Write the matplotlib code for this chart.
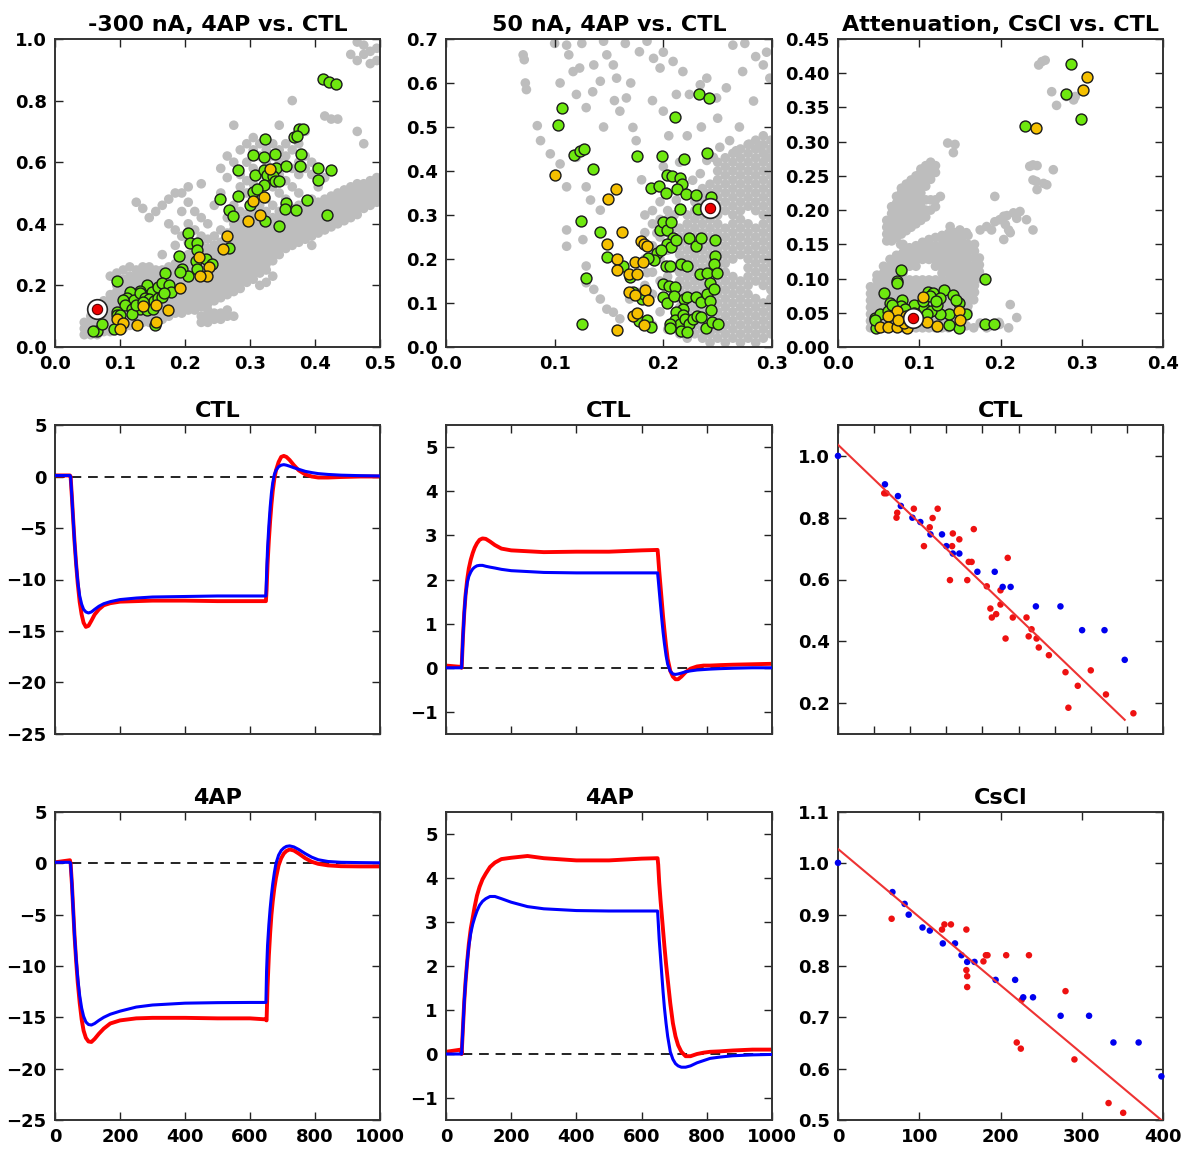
import matplotlib
matplotlib.use('Agg')
import matplotlib.pyplot as plt

plt.rcParams['font.family'] = ['DejaVu Sans']
plt.rcParams['font.weight'] = 'bold'
plt.rcParams['axes.titleweight'] = 'bold'

# ---------------- top-left: -300 nA, 4AP vs. CTL ----------------
gray_tl_cols = [0.045, 0.055, 0.065, 0.075, 0.085, 0.095, 0.105, 0.115, 0.125, 0.135, 0.145, 0.155, 0.165,
                0.175, 0.185, 0.195, 0.205, 0.215, 0.225, 0.235, 0.245, 0.255, 0.265, 0.275, 0.285, 0.295,
                0.305, 0.315, 0.325, 0.335, 0.345, 0.355, 0.365, 0.375, 0.385, 0.395, 0.405, 0.415, 0.425,
                0.435, 0.445, 0.455, 0.465, 0.475, 0.485, 0.495]
gray_tl_rows = [
    [0.04, 0.06, 0.08],
    [0.04, 0.06, 0.08, 0.10],
    [0.04, 0.06, 0.08, 0.10, 0.12],
    [0.05, 0.07, 0.09, 0.11, 0.13, 0.15],
    [0.05, 0.07, 0.09, 0.11, 0.13, 0.15, 0.17, 0.23],
    [0.06, 0.08, 0.10, 0.12, 0.14, 0.16, 0.18, 0.20, 0.24],
    [0.06, 0.08, 0.10, 0.12, 0.14, 0.16, 0.18, 0.20, 0.22, 0.25],
    [0.07, 0.09, 0.11, 0.13, 0.15, 0.17, 0.19, 0.21, 0.23, 0.26],
    [0.07, 0.09, 0.11, 0.13, 0.15, 0.17, 0.19, 0.21, 0.23, 0.25, 0.47],
    [0.08, 0.10, 0.12, 0.14, 0.16, 0.18, 0.20, 0.22, 0.24, 0.26, 0.45],
    [0.08, 0.10, 0.12, 0.14, 0.16, 0.18, 0.20, 0.22, 0.24, 0.26, 0.42],
    [0.09, 0.11, 0.13, 0.15, 0.17, 0.19, 0.21, 0.23, 0.25, 0.44],
    [0.09, 0.11, 0.13, 0.15, 0.17, 0.19, 0.21, 0.23, 0.25, 0.30, 0.46],
    [0.10, 0.12, 0.14, 0.16, 0.18, 0.20, 0.22, 0.24, 0.26, 0.40, 0.48],
    [0.11, 0.13, 0.15, 0.17, 0.19, 0.21, 0.23, 0.25, 0.27, 0.33, 0.38, 0.50],
    [0.11, 0.13, 0.15, 0.17, 0.19, 0.21, 0.23, 0.25, 0.27, 0.29, 0.36, 0.44, 0.50],
    [0.12, 0.14, 0.16, 0.18, 0.20, 0.22, 0.24, 0.26, 0.28, 0.30, 0.34, 0.40, 0.47, 0.52],
    [0.12, 0.14, 0.16, 0.18, 0.20, 0.22, 0.24, 0.26, 0.28, 0.30, 0.32, 0.38, 0.44],
    [0.08, 0.10, 0.13, 0.15, 0.17, 0.19, 0.21, 0.23, 0.25, 0.27, 0.29, 0.31, 0.33, 0.36, 0.42, 0.53],
    [0.08, 0.10, 0.12, 0.14, 0.16, 0.18, 0.20, 0.22, 0.24, 0.26, 0.28, 0.30, 0.32, 0.35, 0.40],
    [0.09, 0.11, 0.15, 0.17, 0.19, 0.21, 0.23, 0.25, 0.27, 0.29, 0.31, 0.33, 0.36, 0.46],
    [0.09, 0.11, 0.16, 0.18, 0.20, 0.22, 0.24, 0.26, 0.28, 0.30, 0.32, 0.34, 0.38, 0.50, 0.58],
    [0.10, 0.12, 0.17, 0.19, 0.21, 0.23, 0.25, 0.27, 0.29, 0.31, 0.33, 0.35, 0.37, 0.42, 0.55, 0.62],
    [0.10, 0.18, 0.20, 0.22, 0.24, 0.26, 0.28, 0.30, 0.32, 0.34, 0.36, 0.38, 0.40, 0.46, 0.60, 0.72],
    [0.19, 0.21, 0.23, 0.25, 0.27, 0.29, 0.31, 0.33, 0.35, 0.37, 0.39, 0.41, 0.44, 0.52, 0.56, 0.64],
    [0.21, 0.23, 0.25, 0.27, 0.29, 0.31, 0.33, 0.35, 0.37, 0.39, 0.41, 0.43, 0.50, 0.54, 0.60, 0.66],
    [0.22, 0.24, 0.26, 0.28, 0.30, 0.32, 0.34, 0.36, 0.38, 0.40, 0.42, 0.44, 0.48, 0.53, 0.58, 0.64, 0.68],
    [0.20, 0.24, 0.26, 0.28, 0.30, 0.32, 0.34, 0.36, 0.38, 0.40, 0.42, 0.46, 0.50, 0.56, 0.62, 0.66],
    [0.21, 0.25, 0.27, 0.29, 0.31, 0.33, 0.35, 0.37, 0.39, 0.41, 0.44, 0.48, 0.54, 0.60, 0.64],
    [0.23, 0.28, 0.30, 0.32, 0.34, 0.36, 0.38, 0.40, 0.42, 0.46, 0.52, 0.58, 0.62, 0.66],
    [0.30, 0.32, 0.34, 0.36, 0.38, 0.40, 0.42, 0.44, 0.50, 0.56, 0.60, 0.64, 0.72],
    [0.32, 0.34, 0.36, 0.38, 0.40, 0.42, 0.44, 0.48, 0.54, 0.62, 0.66],
    [0.33, 0.35, 0.37, 0.39, 0.41, 0.43, 0.45, 0.52, 0.58, 0.64, 0.80],
    [0.34, 0.36, 0.38, 0.40, 0.42, 0.44, 0.46, 0.50, 0.56, 0.60, 0.66],
    [0.35, 0.37, 0.39, 0.41, 0.43, 0.45, 0.47, 0.58, 0.62, 0.70],
    [0.33, 0.36, 0.38, 0.40, 0.42, 0.44, 0.46, 0.48, 0.56, 0.60],
    [0.37, 0.39, 0.41, 0.43, 0.45, 0.47, 0.52, 0.58],
    [0.38, 0.40, 0.42, 0.44, 0.46, 0.48, 0.55, 0.75],
    [0.39, 0.41, 0.43, 0.45, 0.47, 0.49, 0.74],
    [0.40, 0.42, 0.44, 0.46, 0.48, 0.50, 0.74],
    [0.41, 0.43, 0.45, 0.47, 0.49, 0.51],
    [0.42, 0.44, 0.46, 0.48, 0.50, 0.52, 0.95],
    [0.43, 0.45, 0.47, 0.49, 0.51, 0.53, 0.70, 0.93, 0.99],
    [0.45, 0.47, 0.49, 0.51, 0.53, 0.66, 0.95, 0.98],
    [0.46, 0.48, 0.50, 0.52, 0.54, 0.92, 0.96],
    [0.47, 0.49, 0.51, 0.53, 0.55, 0.93, 0.97],
]
green_tl_x = [0.412, 0.421, 0.432, 0.375, 0.382, 0.367, 0.373, 0.323, 0.304, 0.321, 0.338, 0.379, 0.281, 0.308,
              0.322, 0.326, 0.340, 0.355, 0.377, 0.404, 0.424, 0.336, 0.338, 0.345, 0.404, 0.304, 0.321, 0.311,
              0.254, 0.281, 0.300, 0.323, 0.267, 0.274, 0.356, 0.354, 0.371, 0.387, 0.419, 0.345, 0.204, 0.207,
              0.218, 0.218, 0.268, 0.191, 0.196, 0.217, 0.232, 0.242, 0.169, 0.204, 0.219, 0.193, 0.141, 0.131,
              0.095, 0.115, 0.149, 0.159, 0.164, 0.176, 0.179, 0.110, 0.121, 0.130, 0.138, 0.145, 0.152, 0.159,
              0.164, 0.167, 0.105, 0.108, 0.118, 0.131, 0.141, 0.151, 0.095, 0.095, 0.100, 0.118, 0.064, 0.073,
              0.059, 0.090, 0.154, 0.125, 0.136]
green_tl_y = [0.870, 0.861, 0.853, 0.707, 0.707, 0.683, 0.685, 0.676, 0.623, 0.617, 0.627, 0.627, 0.574, 0.558,
              0.576, 0.558, 0.582, 0.587, 0.587, 0.582, 0.576, 0.554, 0.538, 0.538, 0.543, 0.502, 0.527, 0.514,
              0.482, 0.491, 0.462, 0.408, 0.446, 0.426, 0.467, 0.448, 0.446, 0.476, 0.429, 0.393, 0.370, 0.337,
              0.337, 0.315, 0.321, 0.296, 0.252, 0.280, 0.285, 0.268, 0.241, 0.230, 0.252, 0.245, 0.201, 0.183,
              0.215, 0.179, 0.179, 0.196, 0.207, 0.201, 0.178, 0.160, 0.152, 0.174, 0.160, 0.155, 0.149, 0.158,
              0.163, 0.176, 0.152, 0.136, 0.122, 0.125, 0.120, 0.125, 0.114, 0.103, 0.103, 0.107, 0.052, 0.076,
              0.052, 0.060, 0.071, 0.136, 0.147]
yellow_tl_x = [0.330, 0.305, 0.322, 0.316, 0.297, 0.264, 0.258, 0.221, 0.237, 0.234, 0.223, 0.192, 0.136,
               0.156, 0.174, 0.095, 0.105, 0.100, 0.126, 0.155]
yellow_tl_y = [0.578, 0.473, 0.487, 0.429, 0.408, 0.359, 0.317, 0.291, 0.261, 0.230, 0.230, 0.190, 0.133,
               0.136, 0.120, 0.092, 0.078, 0.060, 0.071, 0.082]
red_tl = (0.064, 0.122)

# ---------------- top-middle: 50 nA, 4AP vs. CTL ----------------
gray_tm_cols = [0.183, 0.190, 0.197, 0.204, 0.210, 0.215, 0.222, 0.229, 0.236, 0.243, 0.250, 0.257, 0.264,
                0.271, 0.278, 0.285, 0.292, 0.299]
gray_tm_rows = [
    [0.14, 0.20, 0.26, 0.30],
    [0.05, 0.12, 0.17, 0.23, 0.28, 0.31],
    [0.08, 0.15, 0.20, 0.25, 0.29, 0.33],
    [0.04, 0.10, 0.16, 0.22, 0.26, 0.29, 0.31],
    [0.06, 0.12, 0.18, 0.24, 0.27, 0.30],
    [0.03, 0.05, 0.07, 0.09, 0.11, 0.13, 0.15, 0.17, 0.19, 0.21, 0.23, 0.25, 0.27],
    [0.02, 0.04, 0.06, 0.08, 0.10, 0.12, 0.14, 0.16, 0.18, 0.20, 0.22, 0.24, 0.26, 0.28, 0.30],
    [0.03, 0.05, 0.07, 0.09, 0.11, 0.13, 0.15, 0.17, 0.19, 0.21, 0.23, 0.25, 0.27, 0.29, 0.31, 0.33],
    [0.02, 0.04, 0.06, 0.08, 0.10, 0.12, 0.14, 0.16, 0.18, 0.20, 0.22, 0.24, 0.26, 0.28, 0.30, 0.32, 0.34, 0.36],
    [0.01, 0.03, 0.05, 0.07, 0.09, 0.11, 0.13, 0.15, 0.17, 0.19, 0.21, 0.23, 0.25, 0.27, 0.29, 0.31, 0.33,
     0.35, 0.37],
    [0.02, 0.04, 0.06, 0.08, 0.10, 0.12, 0.14, 0.16, 0.18, 0.20, 0.22, 0.24, 0.26, 0.28, 0.30, 0.32, 0.34,
     0.36, 0.38, 0.40, 0.42],
    [0.01, 0.03, 0.05, 0.07, 0.09, 0.11, 0.13, 0.15, 0.17, 0.19, 0.21, 0.23, 0.25, 0.27, 0.31, 0.33, 0.35,
     0.37, 0.39, 0.41, 0.43],
    [0.02, 0.04, 0.06, 0.08, 0.10, 0.12, 0.14, 0.16, 0.20, 0.22, 0.24, 0.26, 0.28, 0.30, 0.32, 0.34, 0.36,
     0.38, 0.40, 0.42, 0.44],
    [0.01, 0.03, 0.05, 0.07, 0.09, 0.11, 0.13, 0.15, 0.21, 0.23, 0.25, 0.27, 0.29, 0.31, 0.33, 0.35, 0.37,
     0.39, 0.41, 0.43, 0.45],
    [0.02, 0.04, 0.06, 0.08, 0.10, 0.12, 0.14, 0.16, 0.18, 0.20, 0.22, 0.24, 0.26, 0.28, 0.32, 0.34, 0.36,
     0.38, 0.40, 0.42, 0.44, 0.46],
    [0.01, 0.03, 0.05, 0.07, 0.09, 0.11, 0.15, 0.17, 0.19, 0.21, 0.23, 0.25, 0.27, 0.31, 0.33, 0.35, 0.37,
     0.39, 0.41, 0.43, 0.45, 0.47],
    [0.02, 0.04, 0.06, 0.08, 0.10, 0.14, 0.16, 0.18, 0.20, 0.22, 0.24, 0.26, 0.28, 0.30, 0.32, 0.34, 0.36,
     0.38, 0.40, 0.42, 0.44, 0.46, 0.48],
    [0.03, 0.05, 0.07, 0.09, 0.11, 0.13, 0.15, 0.17, 0.19, 0.21, 0.23, 0.25, 0.27, 0.29, 0.31, 0.33, 0.35,
     0.37, 0.39, 0.41, 0.43, 0.45, 0.47],
]
gray_tm_x = [0.071, 0.072, 0.073, 0.074, 0.084, 0.087, 0.096, 0.111, 0.113, 0.117, 0.123, 0.120, 0.129, 0.136,
             0.142, 0.148, 0.154, 0.157, 0.160, 0.166, 0.172, 0.175, 0.178, 0.191, 0.197, 0.200, 0.209, 0.212,
             0.218, 0.224, 0.234, 0.240, 0.249, 0.258, 0.264, 0.273, 0.283, 0.292, 0.298, 0.105, 0.111, 0.120,
             0.129, 0.133, 0.142, 0.111, 0.111, 0.126, 0.129, 0.129, 0.136, 0.142, 0.148, 0.154, 0.160, 0.169,
             0.178, 0.185, 0.191, 0.194, 0.206, 0.212, 0.218, 0.227, 0.234, 0.240, 0.246, 0.252, 0.261, 0.267,
             0.279, 0.289, 0.295, 0.100, 0.125, 0.145, 0.165, 0.185, 0.200, 0.105, 0.135, 0.155, 0.145, 0.170,
             0.190, 0.205, 0.215, 0.275, 0.285, 0.295, 0.250, 0.270, 0.180, 0.200, 0.222, 0.235]
gray_tm_y = [0.664, 0.653, 0.600, 0.585, 0.503, 0.469, 0.439, 0.686, 0.664, 0.626, 0.634, 0.574, 0.544, 0.641,
             0.604, 0.664, 0.641, 0.611, 0.536, 0.566, 0.499, 0.469, 0.671, 0.656, 0.634, 0.536, 0.649, 0.574,
             0.626, 0.574, 0.596, 0.611, 0.566, 0.589, 0.686, 0.626, 0.559, 0.641, 0.611, 0.416, 0.364, 0.431,
             0.364, 0.334, 0.311, 0.266, 0.229, 0.244, 0.184, 0.146, 0.131, 0.109, 0.086, 0.079, 0.064, 0.109,
             0.124, 0.169, 0.214, 0.259, 0.296, 0.334, 0.364, 0.379, 0.394, 0.424, 0.431, 0.454, 0.469, 0.446,
             0.461, 0.454, 0.431, 0.690, 0.690, 0.695, 0.690, 0.695, 0.670, 0.600, 0.580, 0.560, 0.500, 0.600,
             0.560, 0.480, 0.420, 0.690, 0.660, 0.670, 0.520, 0.500, 0.380, 0.410, 0.480, 0.500]
green_tm_x = [0.107, 0.103, 0.118, 0.123, 0.127, 0.135, 0.124, 0.142, 0.148, 0.129, 0.125, 0.176, 0.199, 0.211,
              0.219, 0.233, 0.242, 0.240, 0.189, 0.196, 0.202, 0.203, 0.208, 0.215, 0.217, 0.213, 0.221, 0.230,
              0.232, 0.215, 0.244, 0.197, 0.200, 0.203, 0.207, 0.209, 0.203, 0.207, 0.212, 0.224, 0.230, 0.235,
              0.248, 0.194, 0.198, 0.191, 0.186, 0.163, 0.202, 0.206, 0.216, 0.222, 0.234, 0.240, 0.243, 0.248,
              0.247, 0.249, 0.200, 0.200, 0.203, 0.205, 0.211, 0.210, 0.219, 0.222, 0.230, 0.235, 0.240, 0.243,
              0.244, 0.247, 0.218, 0.212, 0.211, 0.215, 0.218, 0.220, 0.224, 0.227, 0.231, 0.235, 0.239, 0.245,
              0.250, 0.178, 0.185, 0.189, 0.206, 0.216, 0.222, 0.206, 0.169, 0.172, 0.180, 0.182]
green_tm_y = [0.544, 0.505, 0.437, 0.445, 0.450, 0.404, 0.287, 0.261, 0.204, 0.157, 0.053, 0.435, 0.434, 0.523,
              0.428, 0.575, 0.565, 0.441, 0.362, 0.366, 0.351, 0.390, 0.389, 0.383, 0.371, 0.358, 0.347, 0.345,
              0.313, 0.313, 0.340, 0.266, 0.285, 0.266, 0.283, 0.248, 0.233, 0.227, 0.244, 0.248, 0.229, 0.248,
              0.244, 0.214, 0.221, 0.197, 0.203, 0.184, 0.184, 0.184, 0.188, 0.184, 0.165, 0.169, 0.146, 0.206,
              0.189, 0.169, 0.143, 0.113, 0.101, 0.139, 0.137, 0.116, 0.109, 0.113, 0.113, 0.103, 0.120, 0.105,
              0.083, 0.131, 0.086, 0.079, 0.062, 0.053, 0.073, 0.064, 0.053, 0.064, 0.071, 0.068, 0.043, 0.056,
              0.053, 0.060, 0.062, 0.045, 0.053, 0.037, 0.034, 0.044, 0.158, 0.124, 0.109, 0.120]
yellow_tm_x = [0.100, 0.149, 0.156, 0.148, 0.162, 0.179, 0.182, 0.185, 0.157, 0.174, 0.181, 0.157, 0.168,
               0.176, 0.168, 0.174, 0.183, 0.186, 0.172, 0.176, 0.182, 0.157]
yellow_tm_y = [0.392, 0.336, 0.358, 0.233, 0.261, 0.240, 0.233, 0.229, 0.199, 0.194, 0.194, 0.174, 0.167,
               0.167, 0.125, 0.118, 0.130, 0.107, 0.070, 0.077, 0.049, 0.038]
red_tm = (0.243, 0.317)

# ---------------- top-right: Attenuation, CsCl vs. CTL ----------------
gray_tr_cols = [0.040, 0.048, 0.056, 0.064, 0.072, 0.080, 0.088, 0.096, 0.104, 0.112, 0.120, 0.128, 0.136,
                0.144, 0.152, 0.160, 0.168, 0.174]
gray_tr_rows = [
    [0.028, 0.038, 0.048, 0.058, 0.068, 0.078, 0.088],
    [0.028, 0.038, 0.048, 0.058, 0.068, 0.078, 0.088, 0.098, 0.105],
    [0.028, 0.038, 0.048, 0.058, 0.068, 0.078, 0.088, 0.098, 0.108, 0.118],
    [0.028, 0.038, 0.048, 0.058, 0.068, 0.078, 0.088, 0.098, 0.108, 0.118, 0.128],
    [0.028, 0.038, 0.048, 0.058, 0.068, 0.078, 0.088, 0.098, 0.108, 0.118, 0.128, 0.134],
    [0.028, 0.038, 0.048, 0.058, 0.068, 0.078, 0.088, 0.098, 0.108, 0.118, 0.128, 0.138],
    [0.028, 0.038, 0.048, 0.058, 0.068, 0.078, 0.088, 0.098, 0.118, 0.128, 0.138, 0.145],
    [0.028, 0.038, 0.048, 0.058, 0.068, 0.078, 0.088, 0.098, 0.118, 0.128, 0.138, 0.148],
    [0.028, 0.038, 0.048, 0.058, 0.068, 0.078, 0.088, 0.098, 0.128, 0.138, 0.148, 0.153],
    [0.028, 0.038, 0.048, 0.058, 0.068, 0.078, 0.088, 0.098, 0.128, 0.138, 0.148, 0.157],
    [0.028, 0.038, 0.048, 0.058, 0.068, 0.078, 0.088, 0.098, 0.118, 0.128, 0.138, 0.148, 0.160],
    [0.028, 0.038, 0.048, 0.058, 0.068, 0.078, 0.088, 0.098, 0.108, 0.118, 0.128, 0.138, 0.148, 0.158, 0.163],
    [0.028, 0.038, 0.048, 0.058, 0.068, 0.078, 0.088, 0.098, 0.108, 0.118, 0.128, 0.138, 0.148, 0.158, 0.166],
    [0.030, 0.040, 0.050, 0.060, 0.070, 0.080, 0.090, 0.100, 0.110, 0.120, 0.130, 0.140, 0.150, 0.160, 0.167],
    [0.035, 0.045, 0.055, 0.065, 0.075, 0.085, 0.095, 0.105, 0.115, 0.125, 0.135, 0.145, 0.155, 0.167],
    [0.050, 0.060, 0.070, 0.080, 0.090, 0.100, 0.110, 0.120, 0.130, 0.140, 0.150, 0.163],
    [0.080, 0.090, 0.100, 0.110, 0.120, 0.130, 0.140, 0.150],
    [0.100, 0.110, 0.120, 0.130],
]
fin_tr_cols = [0.060, 0.066, 0.072, 0.078, 0.084, 0.090, 0.096, 0.102, 0.108, 0.114, 0.120, 0.126]
fin_tr_rows = [
    [0.155, 0.165, 0.175, 0.185],
    [0.155, 0.165, 0.175, 0.185, 0.195, 0.205],
    [0.160, 0.170, 0.180, 0.190, 0.200, 0.210, 0.220],
    [0.165, 0.175, 0.185, 0.195, 0.205, 0.215, 0.225, 0.232],
    [0.170, 0.180, 0.190, 0.200, 0.210, 0.220, 0.230, 0.238],
    [0.175, 0.185, 0.195, 0.205, 0.215, 0.225, 0.235, 0.244],
    [0.180, 0.190, 0.200, 0.210, 0.220, 0.230, 0.240, 0.250],
    [0.185, 0.195, 0.205, 0.215, 0.225, 0.235, 0.245, 0.255, 0.260],
    [0.190, 0.200, 0.215, 0.235, 0.245, 0.255, 0.265],
    [0.200, 0.215, 0.245, 0.255, 0.265, 0.270],
    [0.205, 0.215, 0.255, 0.265],
    [0.220],
]
gray_tr_x = [0.150, 0.158, 0.175, 0.183, 0.189, 0.193, 0.199, 0.204, 0.208, 0.216, 0.224, 0.220, 0.206, 0.210,
             0.204, 0.212, 0.232, 0.240, 0.193, 0.236, 0.240, 0.245, 0.253, 0.257, 0.244, 0.245, 0.265, 0.240,
             0.247, 0.251, 0.255, 0.263, 0.269, 0.281, 0.290, 0.292, 0.167, 0.212, 0.220, 0.199, 0.183, 0.167,
             0.158, 0.175, 0.135, 0.144, 0.142, 0.077, 0.080, 0.138, 0.186, 0.198, 0.210]
gray_tr_y = [0.171, 0.167, 0.171, 0.176, 0.171, 0.183, 0.186, 0.191, 0.192, 0.196, 0.198, 0.188, 0.179, 0.171,
             0.157, 0.167, 0.186, 0.171, 0.220, 0.264, 0.266, 0.265, 0.239, 0.237, 0.242, 0.230, 0.259, 0.244,
             0.412, 0.417, 0.419, 0.373, 0.353, 0.366, 0.361, 0.366, 0.069, 0.062, 0.043, 0.033, 0.028, 0.028,
             0.031, 0.035, 0.298, 0.296, 0.284, 0.150, 0.150, 0.176, 0.030, 0.036, 0.028]
green_tr_x = [0.077, 0.072, 0.072, 0.057, 0.045, 0.052, 0.064, 0.079, 0.077, 0.093, 0.111, 0.117, 0.131, 0.142,
              0.149, 0.158, 0.149, 0.137, 0.137, 0.125, 0.106, 0.103, 0.062, 0.066, 0.115, 0.109, 0.122, 0.126,
              0.105, 0.047, 0.046, 0.113, 0.120, 0.145, 0.093, 0.083, 0.181, 0.181, 0.192, 0.287, 0.281, 0.299,
              0.230]
green_tr_y = [0.113, 0.096, 0.093, 0.079, 0.043, 0.048, 0.064, 0.068, 0.060, 0.061, 0.080, 0.079, 0.083, 0.076,
              0.065, 0.048, 0.028, 0.032, 0.048, 0.048, 0.057, 0.043, 0.052, 0.062, 0.052, 0.048, 0.062, 0.072,
              0.067, 0.028, 0.040, 0.075, 0.067, 0.069, 0.050, 0.055, 0.100, 0.034, 0.034, 0.413, 0.369, 0.333,
              0.323]
yellow_tr_x = [0.306, 0.301, 0.244, 0.105, 0.072, 0.062, 0.052, 0.062, 0.073, 0.085, 0.081, 0.109, 0.122,
               0.149, 0.150, 0.084, 0.074, 0.088]
yellow_tr_y = [0.395, 0.375, 0.320, 0.073, 0.052, 0.046, 0.029, 0.029, 0.029, 0.028, 0.035, 0.036, 0.031,
               0.052, 0.039, 0.045, 0.040, 0.038]
red_tr = (0.092, 0.043)

# ---------------- traces ----------------
t_ms = [0, 46, 48, 52, 56, 60, 65, 70, 76, 82, 88, 95, 103, 112, 122, 135, 150, 170, 200, 250, 300, 400, 500,
        600, 649, 651, 654, 658, 662, 666, 670, 675, 680, 688, 696, 704, 712, 722, 735, 750, 770, 790, 810, 840,
        880, 940, 1000]
ctl_neg_red = [0.1, 0.1, 0.0, -2.0, -4.2, -6.3, -8.5, -10.4, -12.2, -13.4, -14.2, -14.6, -14.5, -14.0, -13.4,
               -12.9, -12.5, -12.3, -12.15, -12.1, -12.05, -12.05, -12.1, -12.1, -12.1, -11.0, -8.5, -6.2, -4.3,
               -2.7, -1.4, -0.2, 0.6, 1.4, 1.9, 2.0, 1.9, 1.6, 1.1, 0.6, 0.2, 0.0, -0.1, -0.1, -0.05, 0.0, 0.0]
ctl_neg_blue = [0.1, 0.1, 0.0, -2.0, -4.2, -6.3, -8.5, -10.2, -11.6, -12.4, -12.9, -13.15, -13.25, -13.15,
                -12.9, -12.6, -12.35, -12.15, -11.95, -11.8, -11.7, -11.65, -11.6, -11.6, -11.6, -9.5, -7.0,
                -4.8, -3.0, -1.6, -0.6, 0.2, 0.6, 0.95, 1.1, 1.15, 1.1, 1.0, 0.85, 0.7, 0.5, 0.38, 0.28, 0.2,
                0.13, 0.08, 0.05]
ap_neg_red = [0.1, 0.3, 0.0, -2.0, -4.5, -7.0, -9.5, -11.6, -13.6, -15.2, -16.3, -17.0, -17.35, -17.4, -17.1,
              -16.6, -16.1, -15.6, -15.3, -15.1, -15.05, -15.05, -15.1, -15.1, -15.2, -15.3, -12.0, -9.0, -6.8,
              -5.0, -3.7, -2.4, -1.4, -0.2, 0.5, 0.95, 1.2, 1.35, 1.25, 0.95, 0.5, 0.15, -0.05, -0.2, -0.28,
              -0.3, -0.3]
ap_neg_blue = [0.1, 0.1, 0.0, -2.0, -4.5, -7.0, -9.3, -11.2, -12.9, -14.1, -14.9, -15.45, -15.7, -15.75, -15.6,
               -15.3, -15.0, -14.7, -14.4, -14.0, -13.8, -13.62, -13.57, -13.55, -13.55, -10.5, -8.0, -6.0, -4.4,
               -3.1, -2.0, -0.9, 0.0, 0.8, 1.25, 1.5, 1.65, 1.7, 1.6, 1.35, 0.95, 0.6, 0.35, 0.18, 0.1, 0.07,
               0.05]
ctl_pos_red = [0.05, 0.02, 0.0, 0.7, 1.25, 1.65, 2.0, 2.25, 2.45, 2.6, 2.72, 2.82, 2.9, 2.93, 2.92, 2.86, 2.78,
               2.7, 2.66, 2.64, 2.62, 2.63, 2.63, 2.66, 2.67, 2.5, 2.2, 1.85, 1.5, 1.15, 0.85, 0.5, 0.2, -0.07,
               -0.2, -0.26, -0.26, -0.2, -0.1, -0.02, 0.03, 0.05, 0.05, 0.06, 0.07, 0.08, 0.09]
ctl_pos_blue = [0.0, 0.0, 0.0, 0.7, 1.25, 1.65, 1.92, 2.07, 2.17, 2.24, 2.28, 2.31, 2.32, 2.32, 2.3, 2.28, 2.26,
                2.23, 2.2, 2.18, 2.16, 2.15, 2.15, 2.15, 2.15, 2.0, 1.75, 1.42, 1.1, 0.8, 0.55, 0.28, 0.08,
                -0.08, -0.14, -0.15, -0.14, -0.12, -0.09, -0.07, -0.05, -0.04, -0.03, -0.02, -0.01, 0.0, 0.0]
ap_pos_red = [0.05, 0.1, 0.0, 0.6, 1.2, 1.65, 2.1, 2.5, 2.85, 3.1, 3.35, 3.6, 3.8, 3.97, 4.1, 4.25, 4.35, 4.43,
              4.46, 4.5, 4.45, 4.4, 4.4, 4.44, 4.45, 4.3, 3.9, 3.5, 3.15, 2.8, 2.45, 2.05, 1.7, 1.15, 0.7, 0.4,
              0.2, 0.05, -0.05, -0.05, 0.0, 0.03, 0.05, 0.06, 0.08, 0.1, 0.1]
ap_pos_blue = [0.0, 0.0, 0.0, 0.6, 1.2, 1.65, 2.1, 2.45, 2.75, 2.95, 3.1, 3.25, 3.38, 3.47, 3.53, 3.58, 3.58,
               3.53, 3.45, 3.35, 3.3, 3.26, 3.25, 3.25, 3.25, 3.0, 2.6, 2.2, 1.8, 1.4, 1.05, 0.7, 0.4, 0.05,
               -0.12, -0.22, -0.27, -0.3, -0.3, -0.27, -0.2, -0.15, -0.1, -0.07, -0.04, -0.02, -0.01]

# ---------------- right column: attenuation vs distance ----------------
ctl_blue_x = [0, 65, 83, 87, 103, 114, 128, 144, 150, 159, 168, 193, 217, 228, 239, 274, 308, 338, 369, 397]
ctl_blue_y = [1.0, 0.908, 0.870, 0.838, 0.800, 0.786, 0.746, 0.746, 0.708, 0.684, 0.684, 0.625, 0.625, 0.576,
              0.576, 0.513, 0.513, 0.436, 0.436, 0.340]
ctl_red_x = [64, 67, 81, 82, 105, 138, 119, 127, 131, 158, 159, 168, 155, 179, 181, 185, 188, 206, 211, 213,
             219, 225, 225, 232, 235, 242, 261, 264, 268, 275, 278, 292, 315, 319, 332, 350, 371, 409]
ctl_red_y = [0.879, 0.879, 0.800, 0.816, 0.829, 0.829, 0.708, 0.769, 0.799, 0.708, 0.749, 0.730, 0.598, 0.598,
             0.657, 0.657, 0.763, 0.578, 0.506, 0.477, 0.488, 0.565, 0.519, 0.409, 0.670, 0.477, 0.477, 0.416,
             0.439, 0.409, 0.380, 0.355, 0.300, 0.185, 0.256, 0.306, 0.228, 0.167]
ctl_fit = (1.036, -0.002242)
ctl_fit_range = (0, 397)

cs_blue_x = [0, 67, 82, 87, 104, 113, 129, 144, 152, 159, 168, 194, 218, 228, 240, 274, 309, 339, 370, 398]
cs_blue_y = [1.001, 0.944, 0.921, 0.900, 0.875, 0.869, 0.844, 0.844, 0.821, 0.808, 0.808, 0.773, 0.773, 0.739,
             0.739, 0.703, 0.703, 0.651, 0.651, 0.585]
cs_red_x = [66, 128, 131, 139, 158, 158, 159, 159, 179, 182, 184, 207, 235, 220, 225, 226, 280, 291, 333, 351]
cs_red_y = [0.892, 0.871, 0.881, 0.881, 0.871, 0.792, 0.780, 0.759, 0.809, 0.821, 0.821, 0.821, 0.821, 0.651,
            0.639, 0.734, 0.751, 0.618, 0.533, 0.514]
cs_fit = (1.028, -0.001327)
cs_fit_range = (0, 398)

# ---------------- drawing ----------------
W, H = 1200, 1168
fig = plt.figure(figsize=(12, 11.68), dpi=100)
fig.patch.set_facecolor('white')

COLS = [(55, 380), (446, 772), (838, 1163)]
ROWS = [(39, 347), (425, 734), (812, 1120)]
TITLE_FS = 16
TICK_FS = 13


def add_ax(c, r):
    x0, x1 = COLS[c]
    y0, y1 = ROWS[r]
    return fig.add_axes([x0 / W, 1 - y1 / H, (x1 - x0) / W, (y1 - y0) / H])


def style(ax, xlabels=True):
    ax.tick_params(direction='in', top=True, right=True, length=6, width=1.0, labelsize=TICK_FS, pad=6,
                   color='#222222')
    for s in ax.spines.values():
        s.set_linewidth(1.4)
        s.set_color('#333333')
    if not xlabels:
        ax.set_xticklabels([])


def flatten(cols, rows):
    xs, ys = [], []
    for c, r in zip(cols, rows):
        xs += [c] * len(r)
        ys += list(r)
    return xs, ys


GRAY = '#bdbdbd'
GREEN = '#6ee80f'
GOLD = '#f5c000'


def top_panel(ax, gray_sets, gx, gy, yx, yy, red):
    for xs, ys in gray_sets:
        ax.scatter(xs, ys, s=48, c=GRAY, edgecolors='none', zorder=1)
    ax.scatter(gx, gy, s=62, c=GREEN, edgecolors='#1a1a1a', linewidths=1.0, zorder=3)
    ax.scatter(yx, yy, s=62, c=GOLD, edgecolors='#1a1a1a', linewidths=1.0, zorder=4)
    ax.scatter([red[0]], [red[1]], s=200, c='white', edgecolors='#222222', linewidths=1.2, zorder=5)
    ax.scatter([red[0]], [red[1]], s=55, c='#ee0000', edgecolors='#550000', linewidths=0.8, zorder=6)


# top-left
ax = add_ax(0, 0)
top_panel(ax, [flatten(gray_tl_cols, gray_tl_rows)], green_tl_x, green_tl_y, yellow_tl_x, yellow_tl_y, red_tl)
ax.set_xlim(0, 0.5)
ax.set_ylim(0, 1.0)
ax.set_xticks([0.0, 0.1, 0.2, 0.3, 0.4, 0.5])
ax.set_yticks([0.0, 0.2, 0.4, 0.6, 0.8, 1.0])
ax.set_xticklabels(['0.0', '0.1', '0.2', '0.3', '0.4', '0.5'])
ax.set_yticklabels(['0.0', '0.2', '0.4', '0.6', '0.8', '1.0'])
ax.set_title('-300 nA, 4AP vs. CTL', fontsize=TITLE_FS, pad=6)
style(ax)

# top-middle
ax = add_ax(1, 0)
top_panel(ax, [flatten(gray_tm_cols, gray_tm_rows), (gray_tm_x, gray_tm_y)], green_tm_x, green_tm_y,
          yellow_tm_x, yellow_tm_y, red_tm)
ax.set_xlim(0, 0.3)
ax.set_ylim(0, 0.7)
ax.set_xticks([0.0, 0.1, 0.2, 0.3])
ax.set_xticklabels(['0.0', '0.1', '0.2', '0.3'])
ax.set_yticks([0.0, 0.1, 0.2, 0.3, 0.4, 0.5, 0.6, 0.7])
ax.set_yticklabels(['0.0', '0.1', '0.2', '0.3', '0.4', '0.5', '0.6', '0.7'])
ax.set_title('50 nA, 4AP vs. CTL', fontsize=TITLE_FS, pad=6)
style(ax)

# top-right
ax = add_ax(2, 0)
top_panel(ax, [flatten(gray_tr_cols, gray_tr_rows), flatten(fin_tr_cols, fin_tr_rows), (gray_tr_x, gray_tr_y)],
          green_tr_x, green_tr_y, yellow_tr_x, yellow_tr_y, red_tr)
ax.set_xlim(0, 0.4)
ax.set_ylim(0, 0.45)
ax.set_xticks([0.0, 0.1, 0.2, 0.3, 0.4])
ax.set_xticklabels(['0.0', '0.1', '0.2', '0.3', '0.4'])
yt = [0.0, 0.05, 0.10, 0.15, 0.20, 0.25, 0.30, 0.35, 0.40, 0.45]
ax.set_yticks(yt)
ax.set_yticklabels(['%.2f' % v for v in yt])
ax.set_title('Attenuation, CsCl vs. CTL', fontsize=TITLE_FS, pad=6)
style(ax)


def trace_panel(ax, red, blue, ylim, yticks, title, xlabels):
    ax.axhline(0, color='#222222', lw=1.4, dashes=(5, 3.5), zorder=1)
    ax.plot(t_ms, red, color='#ff0000', lw=2.8, zorder=2, solid_joinstyle='round')
    ax.plot(t_ms, blue, color='#0000ff', lw=2.2, zorder=3, solid_joinstyle='round')
    ax.set_xlim(0, 1000)
    ax.set_ylim(*ylim)
    ax.set_xticks([0, 200, 400, 600, 800, 1000])
    ax.set_yticks(yticks)
    ax.set_title(title, fontsize=TITLE_FS, pad=6)
    style(ax, xlabels)


trace_panel(add_ax(0, 1), ctl_neg_red, ctl_neg_blue, (-25, 5), [-25, -20, -15, -10, -5, 0, 5], 'CTL', False)
trace_panel(add_ax(1, 1), ctl_pos_red, ctl_pos_blue, (-1.5, 5.5), [-1, 0, 1, 2, 3, 4, 5], 'CTL', False)
trace_panel(add_ax(0, 2), ap_neg_red, ap_neg_blue, (-25, 5), [-25, -20, -15, -10, -5, 0, 5], '4AP', True)
trace_panel(add_ax(1, 2), ap_pos_red, ap_pos_blue, (-1.5, 5.5), [-1, 0, 1, 2, 3, 4, 5], '4AP', True)


def atten_panel(ax, bx, by, rx, ry, fit, frange, title):
    ax.scatter(rx, ry, s=22, c='#ee1111', edgecolors='none', zorder=2, clip_on=False)
    ax.scatter(bx, by, s=22, c='#0000ee', edgecolors='none', zorder=3, clip_on=False)
    ax.plot([frange[0], frange[1]], [fit[0] + fit[1] * frange[0], fit[0] + fit[1] * frange[1]],
            color='#ee3333', lw=1.5, zorder=4)
    ax.set_title(title, fontsize=TITLE_FS, pad=6)


ax = add_ax(2, 1)
atten_panel(ax, ctl_blue_x, ctl_blue_y, ctl_red_x, ctl_red_y, ctl_fit, ctl_fit_range, 'CTL')
ax.set_xlim(0, 450)
ax.set_ylim(0.1, 1.1)
ax.set_xticks([0, 50, 100, 150, 200, 250, 300, 350, 400, 450])
ax.set_yticks([0.2, 0.4, 0.6, 0.8, 1.0])
ax.set_yticklabels(['0.2', '0.4', '0.6', '0.8', '1.0'])
style(ax, False)

ax = add_ax(2, 2)
atten_panel(ax, cs_blue_x, cs_blue_y, cs_red_x, cs_red_y, cs_fit, cs_fit_range, 'CsCl')
ax.set_xlim(0, 400)
ax.set_ylim(0.5, 1.1)
ax.set_xticks([0, 100, 200, 300, 400])
ax.set_yticks([0.5, 0.6, 0.7, 0.8, 0.9, 1.0, 1.1])
ax.set_yticklabels(['0.5', '0.6', '0.7', '0.8', '0.9', '1.0', '1.1'])
style(ax)

fig.savefig('out.png', dpi=100, facecolor='white')
